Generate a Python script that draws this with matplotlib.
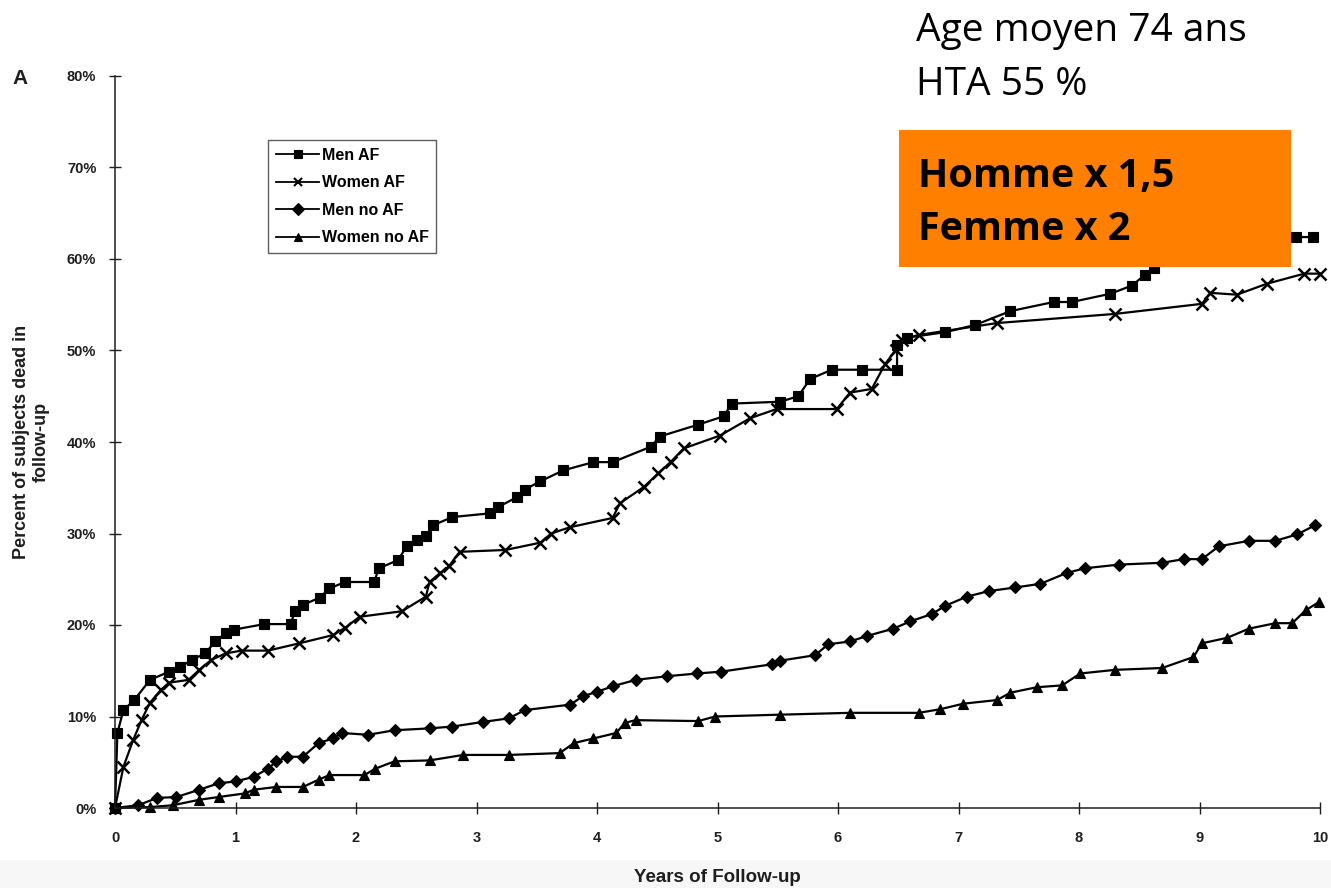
"""
Mortality in follow-up by sex and AF status, with French annotation panel.
Saves out.png (1331x888).
"""

import matplotlib.pyplot as plt
from matplotlib.lines import Line2D
from matplotlib.patches import Rectangle
from matplotlib.ticker import FuncFormatter

# ── data ───────────────────────────────────────────────────────────────────
men_af_years = [0.0, 0.02, 0.07, 0.16, 0.29, 0.45, 0.54, 0.64, 0.75, 0.83, 0.92, 0.99,
                1.24, 1.46, 1.49, 1.56, 1.70, 1.78, 1.91, 2.15, 2.19, 2.35, 2.42, 2.51,
                2.58, 2.64, 2.80, 3.11, 3.18, 3.34, 3.40, 3.53, 3.72, 3.97, 4.13, 4.45,
                4.52, 4.84, 5.05, 5.12, 5.52, 5.67, 5.77, 5.95, 6.20, 6.49, 6.49, 6.57,
                6.89, 7.14, 7.43, 7.79, 7.94, 8.26, 8.44, 8.55, 8.62, 8.80, 9.05, 9.35,
                9.65, 9.80, 9.94]
men_af_pct = [0.0, 8.2, 10.7, 11.8, 14.0, 14.9, 15.4, 16.2, 16.9, 18.2, 19.1, 19.5,
              20.1, 20.1, 21.5, 22.2, 23.0, 24.0, 24.7, 24.7, 26.2, 27.1, 28.6, 29.3,
              29.7, 30.9, 31.8, 32.2, 32.9, 34.0, 34.8, 35.7, 36.9, 37.8, 37.8, 39.5,
              40.6, 41.9, 42.8, 44.2, 44.4, 45.0, 46.9, 47.9, 47.9, 47.9, 50.6, 51.4,
              52.0, 52.8, 54.3, 55.3, 55.3, 56.2, 57.1, 58.3, 59.0, 60.0, 60.6, 61.5,
              62.4, 62.4, 62.4]

women_af_years = [0.0, 0.07, 0.15, 0.22, 0.29, 0.38, 0.45, 0.61, 0.70, 0.80, 0.92, 1.05,
                  1.27, 1.53, 1.81, 1.91, 2.03, 2.38, 2.58, 2.61, 2.70, 2.77, 2.86, 3.24,
                  3.53, 3.62, 3.78, 4.13, 4.19, 4.39, 4.51, 4.61, 4.72, 5.02, 5.27, 5.49,
                  5.99, 6.10, 6.28, 6.39, 6.48, 6.53, 6.67, 7.32, 8.30, 9.02, 9.09, 9.31,
                  9.56, 9.87, 10.0]
women_af_pct = [0.0, 4.5, 7.4, 9.6, 11.5, 12.9, 13.7, 14.0, 15.1, 16.2, 16.9, 17.2,
                17.2, 18.0, 18.9, 19.7, 20.9, 21.5, 23.1, 24.7, 25.7, 26.4, 28.0, 28.2,
                29.0, 30.0, 30.7, 31.7, 33.3, 35.1, 36.6, 37.8, 39.3, 40.7, 42.6, 43.6,
                43.6, 45.4, 45.8, 48.5, 50.1, 51.2, 51.7, 53.0, 54.0, 55.1, 56.3, 56.1,
                57.3, 58.4, 58.4]

men_noaf_years = [0.0, 0.19, 0.35, 0.51, 0.70, 0.86, 1.00, 1.15, 1.27, 1.34, 1.43, 1.56,
                  1.69, 1.81, 1.88, 2.10, 2.32, 2.61, 2.80, 3.05, 3.27, 3.40, 3.78, 3.88,
                  4.00, 4.13, 4.32, 4.58, 4.83, 5.03, 5.45, 5.52, 5.81, 5.92, 6.10, 6.24,
                  6.46, 6.60, 6.78, 6.89, 7.07, 7.25, 7.47, 7.68, 7.90, 8.05, 8.33, 8.69,
                  8.87, 9.02, 9.16, 9.41, 9.63, 9.81, 9.96]
men_noaf_pct = [0.0, 0.3, 1.1, 1.2, 2.0, 2.7, 2.9, 3.4, 4.3, 5.1, 5.6, 5.6,
                7.1, 7.6, 8.2, 8.0, 8.5, 8.7, 8.9, 9.4, 9.8, 10.7, 11.3, 12.2,
                12.7, 13.3, 14.0, 14.4, 14.7, 14.9, 15.7, 16.1, 16.7, 17.9, 18.2, 18.8,
                19.6, 20.4, 21.2, 22.1, 23.1, 23.7, 24.1, 24.5, 25.7, 26.2, 26.6, 26.8,
                27.2, 27.2, 28.6, 29.2, 29.2, 29.9, 30.9]

women_noaf_years = [0.0, 0.29, 0.48, 0.70, 0.86, 1.08, 1.15, 1.34, 1.56, 1.69, 1.78, 2.07,
                    2.16, 2.32, 2.61, 2.89, 3.27, 3.69, 3.81, 3.97, 4.16, 4.23, 4.32, 4.84,
                    4.98, 5.52, 6.10, 6.67, 6.85, 7.04, 7.32, 7.43, 7.65, 7.86, 8.01, 8.30,
                    8.69, 8.95, 9.02, 9.23, 9.41, 9.63, 9.77, 9.88, 9.99]
women_noaf_pct = [0.0, 0.1, 0.3, 0.9, 1.2, 1.6, 2.0, 2.3, 2.3, 3.1, 3.6, 3.6,
                  4.3, 5.1, 5.2, 5.8, 5.8, 6.0, 7.1, 7.6, 8.2, 9.3, 9.6, 9.5,
                  10.0, 10.2, 10.4, 10.4, 10.8, 11.4, 11.8, 12.6, 13.2, 13.4, 14.7, 15.1,
                  15.3, 16.5, 18.0, 18.6, 19.6, 20.2, 20.2, 21.6, 22.5]

series_labels = ["Men AF", "Women AF", "Men no AF", "Women no AF"]
series_markers = ["s", "x", "D", "^"]

y_ticks = [0, 10, 20, 30, 40, 50, 60, 70, 80]
x_ticks = list(range(0, 11))

info_lines = ["Age moyen 74 ans", "HTA 55 %"]
box_lines = ["Homme x 1,5", "Femme x 2"]

# ── style ──────────────────────────────────────────────────────────────────
NARROW = ["Liberation Sans", "DejaVu Sans"]
SLIDE = ["Open Sans", "Lato", "DejaVu Sans"]
ORANGE = "#ff7f00"
INK = "#1e1e1e"
W, H = 1331, 888


def fx(px):
    return px / W


def fy(py):
    return 1 - py / H


def main():
    fig = plt.figure(figsize=(W / 100, H / 100), dpi=100)

    # faint grey band along the bottom of the scanned slide
    fig.add_artist(Rectangle((0, 0), 1, fy(860), transform=fig.transFigure,
                             facecolor="#f7f7f7", edgecolor="none", zorder=-5))

    ax = fig.add_axes([fx(115), fy(808), fx(1320) - fx(115), fy(76) - fy(808)])
    ax.patch.set_alpha(0)

    series = [
        (men_af_years, men_af_pct),
        (women_af_years, women_af_pct),
        (men_noaf_years, men_noaf_pct),
        (women_noaf_years, women_noaf_pct),
    ]
    sizes = {"s": 7, "x": 8, "D": 6, "^": 7}
    for (xs, ys), label, m in zip(series, series_labels, series_markers):
        ax.plot(xs, ys, color="black", lw=1.6, marker=m, ms=sizes[m],
                mew=1.8 if m == "x" else 0.8, label=label, clip_on=False)

    ax.set_xlim(0, 10)
    ax.set_ylim(0, 80)
    ax.set_yticks(y_ticks)
    ax.set_xticks(x_ticks)
    ax.yaxis.set_major_formatter(FuncFormatter(lambda v, _: f"{v:.0f}%"))
    for side in ("top", "right"):
        ax.spines[side].set_visible(False)
    for side in ("left", "bottom"):
        ax.spines[side].set_color(INK)
        ax.spines[side].set_linewidth(1.1)
    ax.tick_params(axis="both", direction="inout", length=9, width=1, color=INK)
    ax.tick_params(axis="y", pad=9)
    ax.tick_params(axis="x", pad=12)
    for lbl in ax.get_xticklabels() + ax.get_yticklabels():
        lbl.set_fontfamily(NARROW)
        lbl.set_fontweight("bold")
        lbl.set_fontsize(10.5)
        lbl.set_color(INK)

    ax.set_xlabel("Years of Follow-up", family=NARROW, weight="bold", fontsize=13.5,
                  color=INK, labelpad=17)
    ax.set_ylabel("Percent of subjects dead in\nfollow-up", family=NARROW,
                  weight="bold", fontsize=13, color=INK, labelpad=12,
                  linespacing=1.25)
    fig.text(fx(12), fy(79), "A", family=NARROW, weight="heavy", fontsize=15,
             color=INK, va="center")

    # legend box
    handles = [Line2D([], [], color="black", lw=1.3, marker=m, ms=6,
                      mew=1.5 if m == "x" else 0.8) for m in series_markers]
    leg = ax.legend(handles, series_labels, loc="upper left",
                    bbox_to_anchor=(fx(268 - 115) / (fx(1320) - fx(115)),
                                    (fy(140) - fy(808)) / (fy(76) - fy(808))),
                    frameon=True, fancybox=False, edgecolor="#333333",
                    prop={"family": NARROW, "weight": "bold", "size": 11.5},
                    handlelength=2.7, handletextpad=0.15, labelspacing=0.78,
                    borderpad=0.5, borderaxespad=0)
    leg.get_frame().set_linewidth(1.0)

    # slide annotations
    fig.text(fx(916), fy(31), info_lines[0], family=SLIDE, fontsize=28,
             color="black", va="center")
    fig.text(fx(916), fy(85), info_lines[1], family=SLIDE, fontsize=28,
             color="black", va="center")
    fig.add_artist(Rectangle((fx(899), fy(267)), fx(1291) - fx(899), fy(130) - fy(267),
                             transform=fig.transFigure, facecolor=ORANGE,
                             edgecolor="none", zorder=10))
    fig.text(fx(918), fy(176), box_lines[0], family=SLIDE, weight="bold", fontsize=28.5,
             color="black", va="center", zorder=11)
    fig.text(fx(918), fy(229), box_lines[1], family=SLIDE, weight="bold", fontsize=28.5,
             color="black", va="center", zorder=11)

    fig.savefig("out.png", dpi=100)
    plt.close(fig)


if __name__ == "__main__":
    main()
